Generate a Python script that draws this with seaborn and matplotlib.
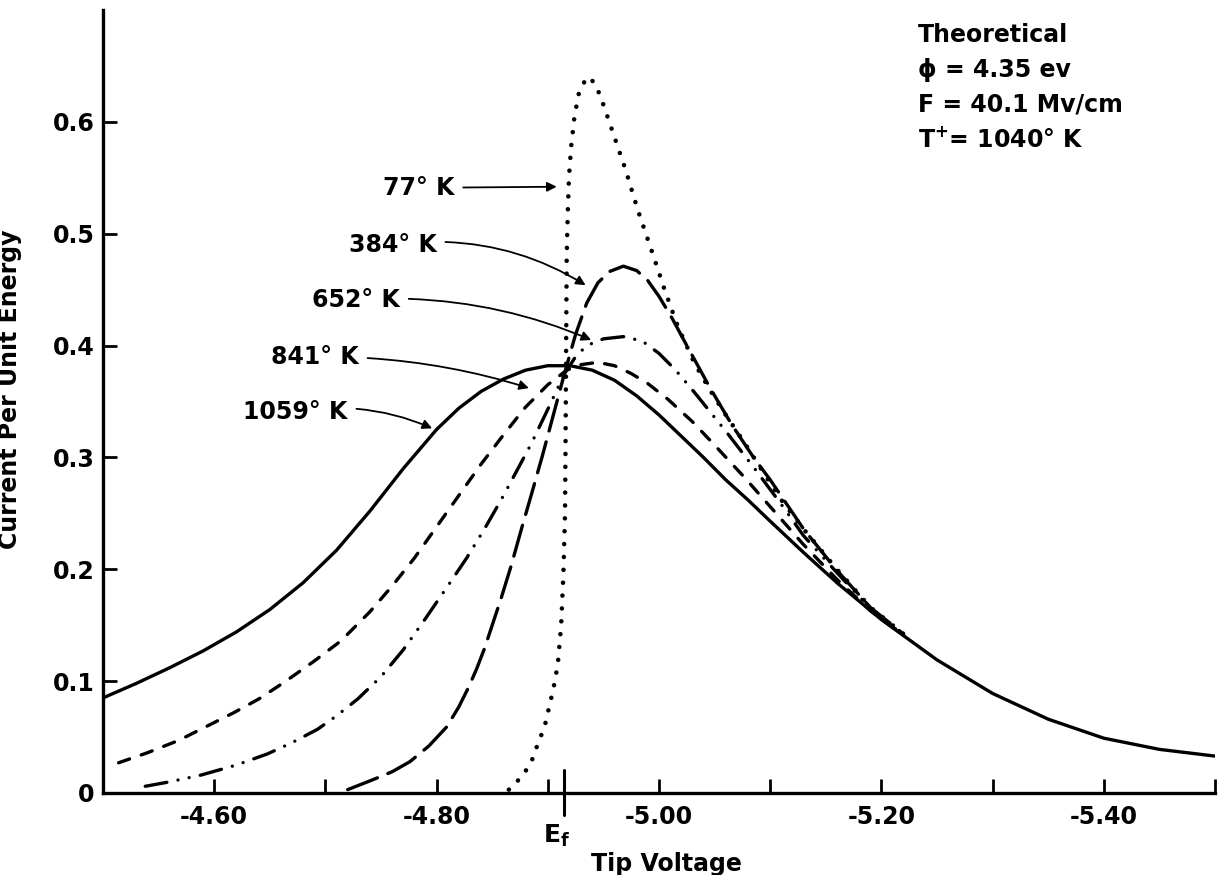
import matplotlib
matplotlib.use("Agg")
import matplotlib.pyplot as plt
import matplotlib.transforms as mtransforms
import seaborn as sns

# ── data ─────────────────────────────────────────────────────────────────────
# 1059 K (solid)
v_1059 = [-4.50, -4.53, -4.56, -4.59, -4.62, -4.65, -4.68, -4.71, -4.74, -4.77,
          -4.80, -4.82, -4.84, -4.86, -4.88, -4.90, -4.92, -4.94, -4.96, -4.98,
          -5.00, -5.02, -5.04, -5.06, -5.08, -5.10, -5.13, -5.16, -5.20, -5.25,
          -5.30, -5.35, -5.40, -5.45, -5.50]
i_1059 = [0.085, 0.098, 0.112, 0.127, 0.144, 0.164, 0.188, 0.217, 0.252, 0.290,
          0.325, 0.344, 0.359, 0.370, 0.378, 0.382, 0.382, 0.378, 0.369, 0.355,
          0.338, 0.319, 0.300, 0.280, 0.262, 0.243, 0.215, 0.188, 0.155, 0.119,
          0.089, 0.066, 0.049, 0.039, 0.033]

# 841 K (dashed)
v_841 = [-4.514, -4.54, -4.568, -4.59, -4.618, -4.64, -4.663, -4.69, -4.714,
         -4.74, -4.76, -4.78, -4.80, -4.82, -4.84, -4.86, -4.88, -4.90, -4.917,
         -4.93, -4.945, -4.96, -4.975, -4.99, -5.008, -5.03, -5.05, -5.077,
         -5.10, -5.13, -5.16, -5.19, -5.22]
i_841 = [0.027, 0.036, 0.047, 0.058, 0.072, 0.084, 0.099, 0.118, 0.136,
         0.162, 0.185, 0.210, 0.238, 0.266, 0.294, 0.320, 0.345, 0.365, 0.378,
         0.383, 0.385, 0.382, 0.375, 0.366, 0.352, 0.332, 0.311, 0.282,
         0.256, 0.222, 0.191, 0.163, 0.141]

# 652 K (dash-dot-dot)
v_652 = [-4.538, -4.56, -4.588, -4.62, -4.648, -4.67, -4.693, -4.71, -4.729,
         -4.75, -4.77, -4.79, -4.81, -4.827, -4.843, -4.858, -4.871, -4.885,
         -4.90, -4.915, -4.925, -4.935, -4.95, -4.968, -4.985, -5.00, -5.015,
         -5.032, -5.062, -5.086, -5.11, -5.13, -5.16, -5.19, -5.22]
i_652 = [0.006, 0.010, 0.016, 0.025, 0.035, 0.045, 0.057, 0.069, 0.084,
         0.104, 0.128, 0.156, 0.185, 0.210, 0.236, 0.262, 0.286, 0.312,
         0.343, 0.375, 0.390, 0.400, 0.406, 0.408, 0.404, 0.393, 0.378,
         0.358, 0.321, 0.290, 0.258, 0.230, 0.197, 0.165, 0.141]

# 384 K (long dash)
v_384 = [-4.72, -4.743, -4.76, -4.776, -4.793, -4.809, -4.82, -4.829, -4.836,
         -4.843, -4.850, -4.858, -4.867, -4.876, -4.885, -4.895, -4.905, -4.915,
         -4.925, -4.935, -4.945, -4.955, -4.968, -4.98, -4.99, -5.00, -5.012,
         -5.025, -5.046, -5.065, -5.085, -5.10, -5.13, -5.16, -5.19, -5.22]
i_384 = [0.003, 0.012, 0.019, 0.028, 0.042, 0.059, 0.077, 0.095, 0.111,
         0.129, 0.150, 0.174, 0.203, 0.235, 0.266, 0.301, 0.338, 0.375,
         0.410, 0.438, 0.456, 0.466, 0.471, 0.467, 0.458, 0.444, 0.424,
         0.400, 0.362, 0.330, 0.300, 0.280, 0.236, 0.199, 0.166, 0.142]

# 77 K (dotted)
v_77 = [-4.865, -4.874, -4.881, -4.886, -4.890, -4.895, -4.898, -4.901, -4.905,
        -4.909, -4.912, -4.914, -4.9155, -4.916, -4.9165, -4.917, -4.918, -4.919,
        -4.921, -4.924, -4.928, -4.935, -4.941, -4.947, -4.957, -4.970, -4.981,
        -4.993, -5.005, -5.017, -5.032, -5.046, -5.06, -5.077, -5.091, -5.11,
        -5.13, -5.16, -5.19, -5.22]
i_77 = [0.003, 0.012, 0.021, 0.030, 0.041, 0.054, 0.063, 0.076, 0.093,
        0.115, 0.150, 0.195, 0.250, 0.320, 0.400, 0.480, 0.520, 0.550,
        0.578, 0.605, 0.626, 0.640, 0.636, 0.624, 0.595, 0.557, 0.521,
        0.486, 0.450, 0.417, 0.384, 0.360, 0.338, 0.313, 0.291, 0.262,
        0.236, 0.200, 0.166, 0.142]

EF = -4.915
x_major = [-4.60, -4.80, -5.00, -5.20, -5.40]
x_major_labels = ["-4.60", "-4.80", "-5.00", "-5.20", "-5.40"]
x_minor = [-4.70, -4.90, -5.10, -5.30, -5.50]
y_ticks = [0, 0.1, 0.2, 0.3, 0.4, 0.5, 0.6]
y_labels = ["0", "0.1", "0.2", "0.3", "0.4", "0.5", "0.6"]

# label text, arrow tip (x, y), text anchor (x, y), arrow curvature
labels = [
    ("77° K",   (-4.908, 0.542), (-4.816, 0.541), 0.0),
    ("384° K",  (-4.934, 0.454), (-4.800, 0.490), -0.18),
    ("652° K",  (-4.939, 0.405), (-4.767, 0.441), -0.12),
    ("841° K",  (-4.883, 0.362), (-4.730, 0.390), -0.08),
    ("1059° K", (-4.796, 0.326), (-4.720, 0.341), -0.15),
]
info_lines = ["Theoretical", "ϕ = 4.35 ev", "F = 40.1 Mv/cm",
              "T$^{\\mathbf{+}}$= 1040° K"]

# ── style ────────────────────────────────────────────────────────────────────
sns.set_style("white")
plt.rcParams.update({
    "font.family": ["DejaVu Sans"],
    "font.weight": "bold",
    "mathtext.default": "bf",
    "text.color": "black",
    "axes.labelcolor": "black",
    "xtick.color": "black",
    "ytick.color": "black",
})

fig = plt.figure(figsize=(12.25, 8.75), dpi=100)
ax = fig.add_axes([103 / 1225, 82 / 875, 1112 / 1225, 783 / 875])

LW = 2.4
sns.lineplot(x=v_1059, y=i_1059, ax=ax, color="black", lw=LW, sort=False,
             estimator=None)
sns.lineplot(x=v_841, y=i_841, ax=ax, color="black", lw=LW, sort=False,
             estimator=None, linestyle=(0, (3.5, 3.7)), dash_capstyle="round")
sns.lineplot(x=v_652, y=i_652, ax=ax, color="black", lw=LW, sort=False,
             estimator=None, linestyle=(0, (6.6, 3.4, 0.01, 3.4, 0.01, 3.4)),
             dash_capstyle="round")
sns.lineplot(x=v_384, y=i_384, ax=ax, color="black", lw=LW, sort=False,
             estimator=None, linestyle=(0, (9.6, 3.4)), dash_capstyle="round")
sns.lineplot(x=v_77, y=i_77, ax=ax, color="black", lw=3.3, sort=False,
             estimator=None, linestyle=(0, (0.01, 2.8)), dash_capstyle="round")

ax.set_xlim(-4.50, -5.50)
ax.set_ylim(0, 0.70)

for side in ["top", "right"]:
    ax.spines[side].set_visible(False)
for side in ["left", "bottom"]:
    ax.spines[side].set_linewidth(2.4)
    ax.spines[side].set_color("black")

ax.set_xticks(x_major)
ax.set_xticklabels(x_major_labels)
ax.set_xticks(x_minor, minor=True)
ax.set_yticks(y_ticks)
ax.set_yticklabels(y_labels)
ax.tick_params(axis="both", which="both", direction="in", length=10, width=2,
               color="black", labelsize=17, labelcolor="black")
ax.tick_params(axis="x", which="major", pad=9)
ax.tick_params(axis="y", which="major", pad=6)
ax.tick_params(axis="y", which="both", left=True)
ax.tick_params(axis="x", which="both", bottom=True)

# Fermi level tick and label
trans = mtransforms.blended_transform_factory(ax.transData, ax.transAxes)
ax.plot([EF, EF], [-0.028, 0.029], transform=trans, color="black", lw=2.2,
        clip_on=False)
ax.text(EF + 0.007, -0.055, "E$_{\\mathbf{f}}$", transform=trans, ha="center",
        va="center", fontsize=18, fontweight="bold")

ax.set_xlabel("Tip Voltage", fontsize=17, fontweight="bold")
ax.xaxis.set_label_coords(0.507, -0.075)
ax.set_ylabel("Current Per Unit Energy", fontsize=17, fontweight="bold")
ax.yaxis.set_label_coords(-0.073, 0.516)

for text, tip, anchor, rad in labels:
    ax.annotate(text, xy=tip, xytext=anchor, ha="right", va="center",
                fontsize=17, fontweight="bold",
                arrowprops=dict(arrowstyle="-|>", color="black", lw=1.3,
                                mutation_scale=14, shrinkA=4, shrinkB=0,
                                connectionstyle=f"arc3,rad={rad}"))

for k, line in enumerate(info_lines):
    ax.text(0.733, 0.968 - k * 0.0445, line, transform=ax.transAxes,
            ha="left", va="center", fontsize=17, fontweight="bold")

fig.savefig("out.png", dpi=100, facecolor="white")
